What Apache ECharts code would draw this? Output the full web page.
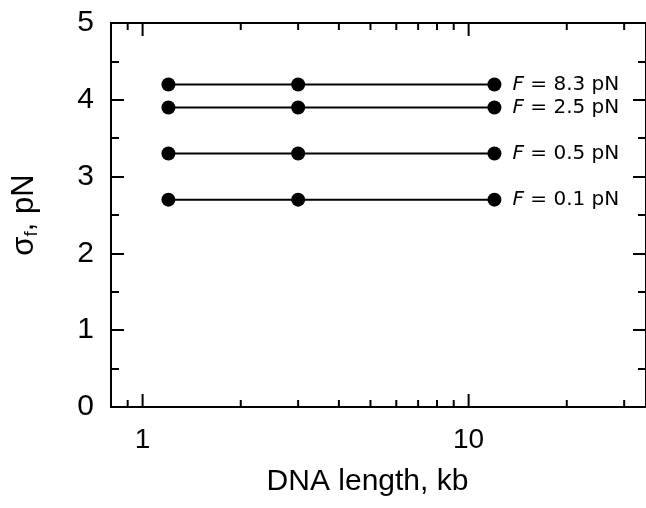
<!DOCTYPE html>
<html>
<head>
<meta charset="utf-8">
<script src="https://cdn.jsdelivr.net/npm/echarts@6/dist/echarts.min.js"></script>
<style>
  html, body { margin: 0; padding: 0; background: #fff; }
  #chart { width: 646px; height: 508px; }
</style>
</head>
<body>
<div id="chart"></div>
<script>
// DNA lengths (kb) at which sigma_f was evaluated
const dnaLength = [1.2, 3, 12];

// sigma_f (pN) for each applied force
const forces = ['8.3', '2.5', '0.5', '0.1'];
const sigma83 = [4.2, 4.2, 4.2];
const sigma25 = [3.9, 3.9, 3.9];
const sigma05 = [3.3, 3.3, 3.3];
const sigma01 = [2.7, 2.7, 2.7];
const sigmaSeries = [sigma83, sigma25, sigma05, sigma01];

// log-axis tick positions
const xMajorTicks = [1, 10];
const xMinorTicks = [0.9, 2, 3, 4, 5, 6, 7, 8, 9, 20, 30];

const FONT = '"Liberation Sans", Arial, Helvetica, sans-serif';
const LABEL_FONT = '"DejaVu Sans", Verdana, sans-serif';

const lineSeries = sigmaSeries.map((vals, k) => ({
  type: 'line',
  data: dnaLength.map((x, i) => [x, vals[i]]),
  symbol: 'circle',
  symbolSize: 14,
  itemStyle: { color: '#000' },
  lineStyle: { color: '#000', width: 2 },
  z: 3,
  label: {
    show: true,
    position: 'right',
    distance: 11,
    color: '#000',
    fontFamily: LABEL_FONT,
    fontSize: 20,
    formatter: p => p.dataIndex === dnaLength.length - 1 ? '{i|F} = ' + forces[k] + ' pN' : '',
    rich: { i: { fontStyle: 'italic', fontSize: 20, fontFamily: LABEL_FONT, color: '#000' } }
  }
}));

// custom tick marks on the bottom and top edges of the log axis
const tickData = xMajorTicks.map(v => [v, 0, 1]).concat(xMinorTicks.map(v => [v, 0, 0]));
const tickSeries = {
  type: 'custom',
  data: tickData,
  clip: false,
  silent: true,
  z: 4,
  renderItem: (params, api) => {
    const x = api.coord([api.value(0), 1])[0];
    const cs = params.coordSys;
    const len = api.value(2) ? 13 : 7;
    const style = { stroke: '#000', lineWidth: 2 };
    return {
      type: 'group',
      children: [
        { type: 'line', shape: { x1: x, y1: cs.y + cs.height, x2: x, y2: cs.y + cs.height - len }, style },
        { type: 'line', shape: { x1: x, y1: cs.y, x2: x, y2: cs.y + len }, style }
      ]
    };
  }
};

const yTickCommon = {
  type: 'value',
  min: 0,
  max: 5,
  interval: 1,
  splitLine: { show: false },
  axisLine: { show: true, lineStyle: { color: '#000', width: 2 } },
  axisTick: { show: true, inside: true, length: 13, lineStyle: { color: '#000', width: 2 } },
  minorTick: { show: true, splitNumber: 2, length: 8, lineStyle: { color: '#000', width: 2 } },
  minorSplitLine: { show: false }
};

const chart = echarts.init(document.getElementById('chart'), null, { renderer: 'canvas' });
chart.setOption({
  animation: false,
  backgroundColor: '#fff',
  grid: {
    left: 111,
    top: 23,
    bottom: 101,
    right: -3,
    show: true,
    borderColor: '#000',
    borderWidth: 2,
    backgroundColor: 'transparent'
  },
  xAxis: {
    type: 'log',
    logBase: 10,
    min: 0.8,
    max: 35,
    name: 'DNA length, kb',
    nameLocation: 'middle',
    nameGap: 60,
    nameTextStyle: { fontFamily: FONT, fontSize: 30, color: '#000', padding: [0, 22, 0, 0] },
    axisLine: { show: true, lineStyle: { color: '#000', width: 2 } },
    axisTick: { show: false },
    splitLine: { show: false },
    minorTick: { show: false },
    minorSplitLine: { show: false },
    axisLabel: {
      showMinLabel: false,
      showMaxLabel: false,
      margin: 19,
      fontFamily: FONT,
      fontSize: 28,
      color: '#000',
      formatter: v => String(v)
    }
  },
  yAxis: [
    Object.assign({}, yTickCommon, {
      position: 'left',
      name: '{s|σ}{sub|f}{s|, pN}',
      nameLocation: 'middle',
      nameRotate: 90,
      nameGap: 70,
      nameTextStyle: {
        color: '#000',
        rich: {
          s: { fontFamily: FONT, fontSize: 31, color: '#000' },
          sub: { fontFamily: FONT, fontSize: 19, color: '#000', padding: [15, 0, 0, 0] }
        }
      },
      axisLabel: { margin: 17, fontFamily: FONT, fontSize: 30, color: '#000' }
    }),
    Object.assign({}, yTickCommon, {
      position: 'right',
      axisLabel: { show: false }
    })
  ],
  series: lineSeries.concat([tickSeries])
});
</script>
</body>
</html>
